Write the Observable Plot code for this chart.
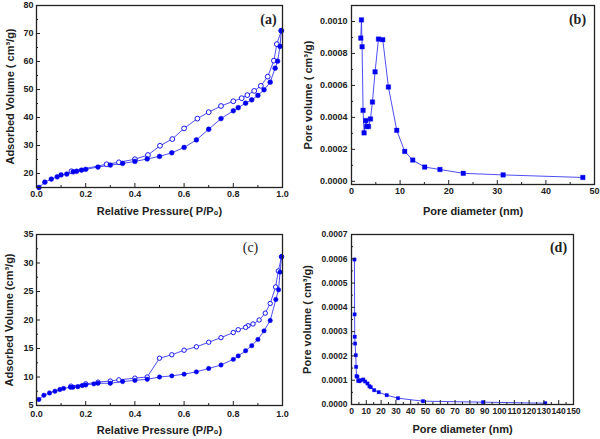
<!DOCTYPE html>
<html>
<head>
<meta charset="utf-8">
<script src="https://cdn.jsdelivr.net/npm/d3@7"></script>
<script src="https://cdn.jsdelivr.net/npm/@observablehq/plot@0.6"></script>
<style>
  html, body { margin: 0; padding: 0; background: #fff; }
  #wrap { position: relative; width: 600px; height: 439px; background: #fff; overflow: hidden; }
  .panel { position: absolute; }
  .panel svg { display: block; font-family: "Liberation Sans", Arial, sans-serif; }
</style>
</head>
<body>
<div id="wrap">
  <div class="panel" id="pa" style="left:0;top:0"></div>
  <div class="panel" id="pb" style="left:300px;top:0"></div>
  <div class="panel" id="pc" style="left:0;top:220px"></div>
  <div class="panel" id="pd" style="left:300px;top:220px"></div>
</div>
<script>
// ---------- Data ----------
// (a) isotherm
const aAdsP = [0.01,0.034,0.06,0.084,0.10,0.123,0.149,0.163,0.183,0.20,0.25,0.30,0.35,0.40,0.45,0.50,0.55,0.60,0.65,0.70,0.75,0.80,0.82,0.85,0.875,0.90,0.925,0.95,0.97,0.98,0.99,0.995];
const aAdsV = [15.0,16.9,18.0,18.8,19.5,19.8,20.6,20.8,21.2,21.5,22.3,23.0,23.6,24.3,25.2,26.1,27.4,29.3,32.0,35.8,39.6,42.4,43.5,45.1,46.3,47.9,49.9,52.6,57.6,60.1,65.4,71.0];
const aDesP = [0.995,0.977,0.965,0.94,0.912,0.885,0.857,0.834,0.80,0.75,0.70,0.654,0.60,0.552,0.502,0.453,0.40,0.335,0.285,0.142];
const aDesV = [71.0,66.2,60.3,54.6,51.3,49.5,48.0,46.9,45.8,44.1,41.9,39.6,36.1,32.3,29.9,26.6,25.1,24.0,23.3,20.8];
// (b) pore size distribution
const bD = [1.91,2.05,2.18,2.38,2.59,2.94,3.14,3.49,3.90,4.31,4.85,5.55,6.43,7.60,9.31,10.95,12.6,15.06,18.2,23.0,31.2,47.6];
const bV = [0.000896,0.00101,0.000842,0.000444,0.000303,0.00038,0.000343,0.000343,0.00039,0.000496,0.000685,0.00089,0.000886,0.00059,0.000319,0.000187,0.000133,0.000089,0.000074,0.00005,0.00004,0.000024];
// (c) isotherm
const cAdsP = [0.0095,0.03,0.053,0.075,0.095,0.11,0.138,0.148,0.168,0.186,0.2,0.233,0.25,0.3,0.35,0.4,0.45,0.5,0.55,0.6,0.65,0.7,0.75,0.8,0.82,0.85,0.875,0.9,0.925,0.95,0.973,0.984,0.99,0.996];
const cAdsV = [6.06,6.8,7.2,7.5,7.8,8.0,8.2,8.2,8.3,8.5,8.6,8.8,8.9,8.9,9.2,9.4,9.6,10.0,10.2,10.5,10.9,11.5,12.1,13.1,13.7,14.6,15.5,16.6,18.1,19.9,23.6,25.3,28.4,31.1];
const cDesP = [0.996,0.983,0.972,0.95,0.93,0.905,0.88,0.86,0.85,0.82,0.80,0.75,0.70,0.65,0.60,0.55,0.50,0.45,0.40,0.335,0.30,0.25,0.20,0.14];
const cDesV = [31.1,28.6,25.8,22.9,21.2,20.0,19.3,19.0,18.7,18.3,17.8,16.9,16.1,15.3,14.7,13.9,13.3,10.0,9.8,9.5,9.3,9.1,8.8,8.4];
// (d) pore size distribution
const dD = [2.0,2.1,2.2,2.4,2.9,3.1,3.4,4.0,4.5,5.4,6.3,7.9,9.2,10.8,12.1,13.0,15.3,18.4,23.8,31.4,48.3,88.9,130.9];
const dV = [0.000597,0.000371,0.000279,0.000251,0.000203,0.000155,0.000117,0.000114,0.0000975,0.000096,0.0001,0.000103,0.0000947,0.0000865,0.0000755,0.0000714,0.000059,0.0000508,0.0000384,0.000026,0.0000137,0.0000096,0.0000055];

// tick values
const isoXMajor = [0,0.2,0.4,0.6,0.8,1.0];
const isoXMinor = [0.1,0.3,0.5,0.7,0.9];
const aYMajor = [20,30,40,50,60,70,80];
const aYMinor = [15,25,35,45,55,65,75];
const bXMajor = [0,10,20,30,40,50];
const bXMinor = [5,15,25,35,45];
const bYMajor = [0,0.0002,0.0004,0.0006,0.0008,0.0010];
const bYMinor = [0.0001,0.0003,0.0005,0.0007,0.0009];
const cYMajor = [5,10,15,20,25,30,35];
const cYMinor = [7.5,12.5,17.5,22.5,27.5,32.5];
const dXMajor = [0,10,20,30,40,50,60,70,80,90,100,110,120,130,140,150];
const dXMinor = [5,15,25,35,45,55,65,75,85,95,105,115,125,135,145];
const dYMajor = [0,0.0001,0.0002,0.0003,0.0004,0.0005,0.0006,0.0007];
const dYMinor = [0.00005,0.00015,0.00025,0.00035,0.00045,0.00055,0.00065];

const zip = (xs, ys) => xs.map((x, i) => ({x, y: ys[i]}));

const BLUE = "#0000ee";
const LINE = "#3a3af0";
const INK = "#222";

function axisMarks({xMaj, xMin, yMaj, yMin, xFmt, yFmt, xPad = 3, yPad = 3, fs = 9}) {
  return [
    Plot.axisX({ticks: xMin, tickSize: 2, dy: -2, tickFormat: () => "", label: null, stroke: INK}),
    Plot.axisX({ticks: xMaj, tickSize: 4, dy: -4, tickFormat: () => "", label: null, stroke: INK}),
    Plot.axisX({ticks: xMaj, tickSize: 0, tickPadding: xPad, tickFormat: xFmt, label: null, fontSize: fs, fontWeight: "bold", fill: INK}),
    Plot.axisY({ticks: yMin, tickSize: 2, dx: 2, tickFormat: () => "", label: null, stroke: INK}),
    Plot.axisY({ticks: yMaj, tickSize: 4, dx: 4, tickFormat: () => "", label: null, stroke: INK}),
    Plot.axisY({ticks: yMaj, tickSize: 0, tickPadding: yPad, tickFormat: yFmt, label: null, fontSize: fs, fontWeight: "bold", fill: INK}),
    Plot.frame({stroke: INK, strokeWidth: 1.3})
  ];
}

function titles({xt, yt, xdy, ydx, letter, ldx, ldy, lbold = true}) {
  return [
    Plot.text([xt], {frameAnchor: "bottom", dy: xdy, text: d => d, fontSize: 11, fontWeight: "bold", fill: INK, textAnchor: "middle", lineAnchor: "middle"}),
    Plot.text([yt], {frameAnchor: "left", dx: ydx, rotate: -90, text: d => d, fontSize: 11, fontWeight: "bold", fill: INK, textAnchor: "middle", lineAnchor: "middle"}),
    Plot.text([letter], {frameAnchor: "top-right", dx: ldx, dy: ldy, text: d => d, fontSize: 14, fontWeight: lbold ? "bold" : "normal", fontFamily: "Liberation Serif, Times New Roman, serif", fill: INK, textAnchor: "middle", lineAnchor: "middle"})
  ];
}

const f1 = d3.format(".1f");
const f4 = d3.format(".4f");
const f0 = d3.format("d");

// ---------- (a) ----------
const plotA = Plot.plot({
  width: 300, height: 220,
  marginLeft: 36, marginRight: 18, marginTop: 5, marginBottom: 33,
  x: {domain: [0, 1]},
  y: {domain: [15, 80]},
  marks: [
    Plot.line(zip(aAdsP, aAdsV), {x: "x", y: "y", stroke: LINE, strokeWidth: 0.9}),
    Plot.line(zip(aDesP, aDesV), {x: "x", y: "y", stroke: LINE, strokeWidth: 0.9}),
    Plot.dot(zip(aDesP, aDesV), {x: "x", y: "y", r: 2.4, fill: "white", stroke: BLUE, strokeWidth: 0.9}),
    Plot.dot(zip(aAdsP, aAdsV), {x: "x", y: "y", r: 2.4, fill: BLUE, stroke: BLUE, strokeWidth: 0.5}),
    ...axisMarks({xMaj: isoXMajor, xMin: isoXMinor, yMaj: aYMajor, yMin: aYMinor, xFmt: f1, yFmt: f0}),
    ...titles({xt: "Relative Pressure( P/P\u2080)", yt: "Adsorbed Volume ( cm\u00B3/g)", xdy: 24, ydx: -26, letter: "(a)", ldx: -14, ldy: 14})
  ]
});
document.getElementById("pa").append(plotA);

// ---------- (b) ----------
const plotB = Plot.plot({
  width: 300, height: 220,
  marginLeft: 51, marginRight: 6, marginTop: 5, marginBottom: 36,
  x: {domain: [0, 50]},
  y: {domain: [-0.00002, 0.0011]},
  marks: [
    Plot.line(zip(bD, bV), {x: "x", y: "y", stroke: LINE, strokeWidth: 0.9}),
    Plot.dot(zip(bD, bV), {x: "x", y: "y", r: 2.6, symbol: "square", fill: BLUE, stroke: BLUE, strokeWidth: 0.3}),
    ...axisMarks({xMaj: bXMajor, xMin: bXMinor, yMaj: bYMajor, yMin: bYMinor, xFmt: f0, yFmt: f4, yPad: 4}),
    ...titles({xt: "Pore diameter (nm)", yt: "Pore volume ( cm\u00B3/g)", xdy: 27, ydx: -43, letter: "(b)", ldx: -17, ldy: 14})
  ]
});
document.getElementById("pb").append(plotB);

// ---------- (c) ----------
const plotC = Plot.plot({
  width: 300, height: 219,
  marginLeft: 36, marginRight: 18, marginTop: 14, marginBottom: 34,
  x: {domain: [0, 1]},
  y: {domain: [5, 35]},
  marks: [
    Plot.line(zip(cAdsP, cAdsV), {x: "x", y: "y", stroke: LINE, strokeWidth: 0.9}),
    Plot.line(zip(cDesP, cDesV), {x: "x", y: "y", stroke: LINE, strokeWidth: 0.9}),
    Plot.dot(zip(cDesP, cDesV), {x: "x", y: "y", r: 2.2, fill: "white", stroke: BLUE, strokeWidth: 0.9}),
    Plot.dot(zip(cAdsP, cAdsV), {x: "x", y: "y", r: 2.2, fill: BLUE, stroke: BLUE, strokeWidth: 0.5}),
    ...axisMarks({xMaj: isoXMajor, xMin: isoXMinor, yMaj: cYMajor, yMin: cYMinor, xFmt: f1, yFmt: f0, xPad: 5}),
    ...titles({xt: "Relative Pressure (P/P\u2080)", yt: "Adsorbed Volume (cm\u00B3/g)", xdy: 25, ydx: -27, letter: "(c)", ldx: -32, ldy: 13, lbold: false})
  ]
});
document.getElementById("pc").append(plotC);

// ---------- (d) ----------
const plotD = Plot.plot({
  width: 300, height: 219,
  marginLeft: 51, marginRight: 27, marginTop: 14, marginBottom: 35,
  x: {domain: [0, 150]},
  y: {domain: [0, 0.0007]},
  marks: [
    Plot.line(zip(dD, dV), {x: "x", y: "y", stroke: LINE, strokeWidth: 0.9}),
    Plot.dot(zip(dD, dV), {x: "x", y: "y", r: 1.9, symbol: "square", fill: BLUE, stroke: BLUE, strokeWidth: 0.3}),
    ...axisMarks({xMaj: dXMajor, xMin: dXMinor, yMaj: dYMajor, yMin: dYMinor, xFmt: f0, yFmt: f4, yPad: 4, fs: 8.5}),
    ...titles({xt: "Pore diameter (nm)", yt: "Pore volume ( cm\u00B3/g)", xdy: 25, ydx: -44, letter: "(d)", ldx: -15, ldy: 13})
  ]
});
document.getElementById("pd").append(plotD);
</script>
</body>
</html>
